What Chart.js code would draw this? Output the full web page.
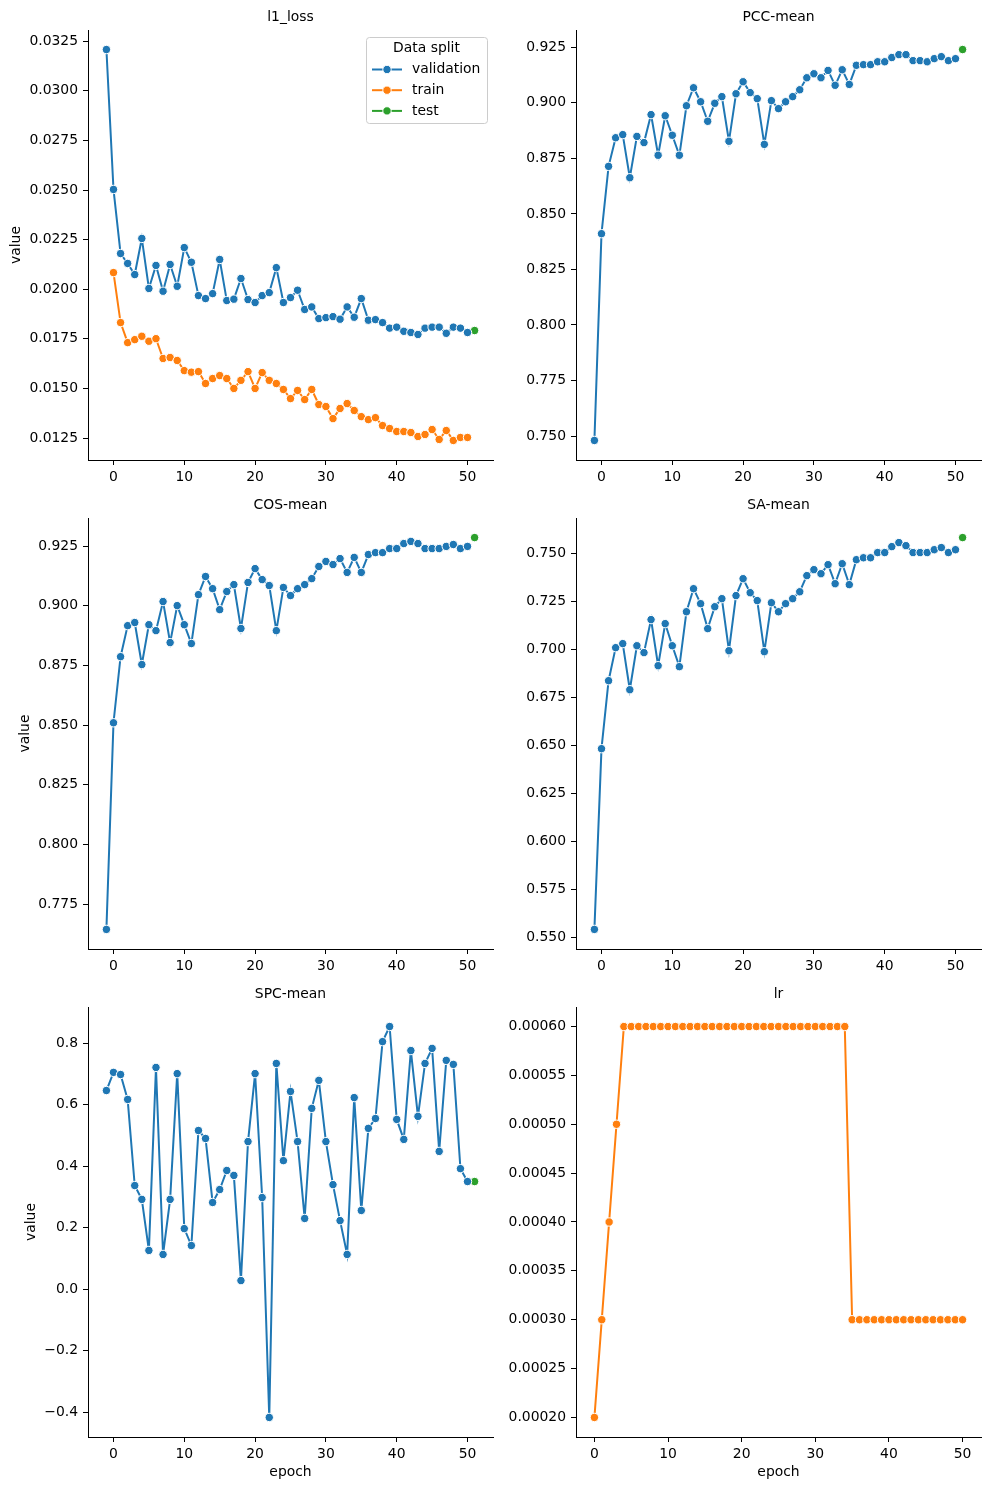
<!DOCTYPE html>
<html>
<head>
<meta charset="utf-8">
<script src="https://cdn.jsdelivr.net/npm/chart.js@4.4.0/dist/chart.umd.min.js"></script>
<style>
  html, body { margin: 0; padding: 0; background: #fff; }
  #fig { position: relative; width: 990px; height: 1490px; overflow: hidden; background: #fff; }
  #fig canvas { position: absolute; }
</style>
</head>
<body>
<div id="fig"></div>
<script>
// --- data ---
const valEpochs = [-1, 0, 1, 2, 3, 4, 5, 6, 7, 8, 9, 10, 11, 12, 13, 14, 15, 16, 17, 18, 19, 20,
  21, 22, 23, 24, 25, 26, 27, 28, 29, 30, 31, 32, 33, 34, 35, 36, 37, 38, 39, 40,
  41, 42, 43, 44, 45, 46, 47, 48, 49, 50];
const trainEpochs = [0, 1, 2, 3, 4, 5, 6, 7, 8, 9, 10, 11, 12, 13, 14, 15, 16, 17, 18, 19, 20,
  21, 22, 23, 24, 25, 26, 27, 28, 29, 30, 31, 32, 33, 34, 35, 36, 37, 38, 39, 40,
  41, 42, 43, 44, 45, 46, 47, 48, 49, 50];
const testEpochs = [51];

const l1Val = [0.03208, 0.02503, 0.0218, 0.0213, 0.02074, 0.02256, 0.02004, 0.0212, 0.0199, 0.02125,
  0.02015, 0.0221, 0.02136, 0.01968, 0.01953, 0.01978, 0.0215, 0.01943, 0.0195, 0.02054,
  0.01948, 0.01933, 0.01968, 0.01983, 0.02109, 0.01933, 0.01958, 0.01995, 0.01898, 0.01911,
  0.01852, 0.01857, 0.01862, 0.01849, 0.01911, 0.01859, 0.01953, 0.01844, 0.01847, 0.01832,
  0.01804, 0.01809, 0.01788, 0.01782, 0.01772, 0.01804, 0.01809, 0.01809, 0.01778, 0.01809,
  0.01804, 0.01782];
const l1Train = [0.02084, 0.01832, 0.01731, 0.01746, 0.01763, 0.01738, 0.01751, 0.01651, 0.01656, 0.01641,
  0.0159, 0.01582, 0.01585, 0.01525, 0.0155, 0.01565, 0.0155, 0.015, 0.01541, 0.01585,
  0.015, 0.0158, 0.01541, 0.01525, 0.01495, 0.01449, 0.0149, 0.01444, 0.01495, 0.01419,
  0.01409, 0.01348, 0.01399, 0.01424, 0.01389, 0.01358, 0.01343, 0.01353, 0.01313, 0.01298,
  0.01283, 0.01283, 0.01278, 0.01258, 0.01268, 0.01293, 0.01243, 0.01288, 0.01238, 0.01253,
  0.01253];
const l1Test = [0.01792];

const pccVal = [0.748, 0.8411, 0.8714, 0.8843, 0.8857, 0.8663, 0.8849, 0.8821, 0.8947, 0.8764,
  0.8942, 0.8854, 0.8764, 0.8987, 0.9068, 0.9005, 0.8917, 0.8998, 0.9028, 0.8827,
  0.9041, 0.9095, 0.9046, 0.9019, 0.8813, 0.901, 0.8974, 0.9005, 0.9028, 0.9059,
  0.9113, 0.9131, 0.9113, 0.9146, 0.9079, 0.9149, 0.9083, 0.9169, 0.9172, 0.9172,
  0.9185, 0.9185, 0.9204, 0.9217, 0.9217, 0.919, 0.919, 0.9185, 0.9199, 0.9208,
  0.919, 0.9199];
const pccTest = [0.924];

const cosVal = [0.7644, 0.851, 0.8787, 0.8917, 0.893, 0.8754, 0.8921, 0.8896, 0.9018, 0.8846,
  0.9001, 0.8921, 0.8842, 0.9047, 0.9123, 0.9072, 0.8984, 0.906, 0.9089, 0.8905,
  0.9098, 0.9156, 0.911, 0.9085, 0.8896, 0.9077, 0.9043, 0.9072, 0.9089, 0.9114,
  0.9165, 0.9186, 0.9173, 0.9198, 0.914, 0.9203, 0.914, 0.9215, 0.9223, 0.9223,
  0.924, 0.924, 0.9261, 0.927, 0.9261, 0.924, 0.924, 0.924, 0.9249, 0.9257,
  0.924, 0.9249];
const cosTest = [0.9286];

const saVal = [0.5542, 0.6483, 0.6837, 0.7009, 0.703, 0.679, 0.7019, 0.6983, 0.7155, 0.6915,
  0.7134, 0.7019, 0.691, 0.7196, 0.7316, 0.7238, 0.7108, 0.7222, 0.7264, 0.6993,
  0.728, 0.7368, 0.7295, 0.7254, 0.6988, 0.7243, 0.7196, 0.7238, 0.7264, 0.73,
  0.7384, 0.7415, 0.7394, 0.7441, 0.7342, 0.7446, 0.7337, 0.7467, 0.7477, 0.7477,
  0.7504, 0.7504, 0.7535, 0.7556, 0.754, 0.7504, 0.7504, 0.7504, 0.7519, 0.753,
  0.7504, 0.7519];
const saTest = [0.7582];

const spcVal = [0.646, 0.705, 0.698, 0.617, 0.337, 0.292, 0.126, 0.721, 0.113, 0.292,
  0.701, 0.197, 0.142, 0.516, 0.49, 0.282, 0.324, 0.386, 0.37, 0.028,
  0.48, 0.701, 0.298, -0.417, 0.734, 0.418, 0.643, 0.48, 0.23, 0.588,
  0.679, 0.48, 0.34, 0.223, 0.113, 0.623, 0.256, 0.523, 0.555, 0.805,
  0.854, 0.552, 0.487, 0.776, 0.562, 0.734, 0.783, 0.448, 0.744, 0.731,
  0.392, 0.35];
const spcTest = [0.35];

const lrTrain = [0.0002, 0.0003, 0.0004, 0.0005, 0.0006, 0.0006, 0.0006, 0.0006, 0.0006, 0.0006,
  0.0006, 0.0006, 0.0006, 0.0006, 0.0006, 0.0006, 0.0006, 0.0006, 0.0006, 0.0006,
  0.0006, 0.0006, 0.0006, 0.0006, 0.0006, 0.0006, 0.0006, 0.0006, 0.0006, 0.0006,
  0.0006, 0.0006, 0.0006, 0.0006, 0.0006, 0.0003, 0.0003, 0.0003, 0.0003, 0.0003,
  0.0003, 0.0003, 0.0003, 0.0003, 0.0003, 0.0003, 0.0003, 0.0003, 0.0003, 0.0003,
  0.0003];

const splitLabels = ['validation', 'train', 'test'];
const splitColors = ['#1f77b4', '#ff7f0e', '#2ca02c'];

// --- styling ---
const FONT_FAMILY = "'DejaVu Sans', sans-serif";
const FONT_SIZE = 13.9;
const FONT = FONT_SIZE + 'px ' + FONT_FAMILY;
Chart.defaults.font.family = FONT_FAMILY;
Chart.defaults.font.size = FONT_SIZE;
Chart.defaults.color = '#000';

function fmt(v, d) {
  return Number(v).toFixed(d).replace('-', '\u2212');
}

function series(idx, xs, ys) {
  const color = splitColors[idx];
  return {
    label: splitLabels[idx],
    data: xs.map((x, i) => ({ x: x, y: ys[i] })),
    borderColor: color,
    backgroundColor: color,
    pointBackgroundColor: color,
    pointBorderColor: '#ffffff',
    pointBorderWidth: 1,
    pointRadius: 4.2,
    pointHoverRadius: 4.2,
    borderWidth: 2,
    tension: 0
  };
}

// matplotlib-like 5% margins
function range(arrays) {
  let lo = Infinity, hi = -Infinity;
  arrays.forEach(a => a.forEach(v => { lo = Math.min(lo, v); hi = Math.max(hi, v); }));
  const pad = (hi - lo) * 0.05;
  return [lo - pad, hi + pad];
}

// titles and axis labels
const panelText = {
  id: 'panelText',
  afterDraw(chart, args, o) {
    const ctx = chart.ctx;
    const a = chart.chartArea;
    ctx.save();
    ctx.fillStyle = '#000';
    ctx.font = FONT;
    ctx.textAlign = 'center';
    ctx.textBaseline = 'middle';
    ctx.fillText(o.title, (a.left + a.right) / 2, a.top - 13);
    if (o.xlabel) ctx.fillText(o.xlabel, (a.left + a.right) / 2, a.bottom + 35);
    if (o.ylabel) {
      ctx.translate(o.ylabelX, (a.top + a.bottom) / 2);
      ctx.rotate(-Math.PI / 2);
      ctx.fillText(o.ylabel, 0, 0);
    }
    ctx.restore();
  }
};

// legend inside the first panel, top right
const splitLegend = {
  id: 'splitLegend',
  afterDraw(chart, args, o) {
    if (!o.show) return;
    const ctx = chart.ctx;
    const a = chart.chartArea;
    const w = 121, h = 86;
    const x0 = a.right - 127, y0 = a.top + 7;
    ctx.save();
    ctx.beginPath();
    ctx.roundRect(x0 + 0.5, y0 + 0.5, w, h, 3);
    ctx.fillStyle = 'rgba(255,255,255,0.8)';
    ctx.fill();
    ctx.strokeStyle = '#cccccc';
    ctx.lineWidth = 1;
    ctx.stroke();
    ctx.font = FONT;
    ctx.fillStyle = '#000';
    ctx.textBaseline = 'middle';
    ctx.textAlign = 'center';
    ctx.fillText('Data split', x0 + w / 2, y0 + 11);
    ctx.textAlign = 'left';
    splitLabels.forEach((lab, i) => {
      const y = y0 + 32.5 + i * 20.7;
      ctx.strokeStyle = splitColors[i];
      ctx.lineWidth = 2;
      ctx.beginPath();
      ctx.moveTo(x0 + 6, y);
      ctx.lineTo(x0 + 36, y);
      ctx.stroke();
      ctx.beginPath();
      ctx.arc(x0 + 21, y, 4.2, 0, Math.PI * 2);
      ctx.fillStyle = splitColors[i];
      ctx.fill();
      ctx.strokeStyle = '#fff';
      ctx.lineWidth = 1;
      ctx.stroke();
      ctx.fillStyle = '#000';
      ctx.fillText(lab, x0 + 46, y);
    });
    ctx.restore();
  }
};

// --- panels ---
const colLeft = [88, 576];
const rowTop = [30, 518, 1007];
const rowH = [430, 431, 430];
const PLOT_W = 405;

const panels = [
  { title: 'l1_loss', col: 0, row: 0, step: 0.0025, dec: 4, ylabel: 'value', ylabelX: 16, legend: true,
    sets: [series(0, valEpochs, l1Val), series(1, trainEpochs, l1Train), series(2, testEpochs, l1Test)],
    xs: [valEpochs, testEpochs], ys: [l1Val, l1Train, l1Test] },
  { title: 'PCC-mean', col: 1, row: 0, step: 0.025, dec: 3,
    sets: [series(0, valEpochs, pccVal), series(2, testEpochs, pccTest)],
    xs: [valEpochs, testEpochs], ys: [pccVal, pccTest] },
  { title: 'COS-mean', col: 0, row: 1, step: 0.025, dec: 3, ylabel: 'value', ylabelX: 25,
    sets: [series(0, valEpochs, cosVal), series(2, testEpochs, cosTest)],
    xs: [valEpochs, testEpochs], ys: [cosVal, cosTest] },
  { title: 'SA-mean', col: 1, row: 1, step: 0.025, dec: 3,
    sets: [series(0, valEpochs, saVal), series(2, testEpochs, saTest)],
    xs: [valEpochs, testEpochs], ys: [saVal, saTest] },
  { title: 'SPC-mean', col: 0, row: 2, step: 0.2, dec: 1, ylabel: 'value', ylabelX: 31, xlabel: 'epoch',
    sets: [series(0, valEpochs, spcVal), series(2, testEpochs, spcTest)],
    xs: [valEpochs, testEpochs], ys: [spcVal, spcTest] },
  { title: 'lr', col: 1, row: 2, step: 0.00005, dec: 5, xlabel: 'epoch',
    sets: [series(1, trainEpochs, lrTrain)],
    xs: [trainEpochs], ys: [lrTrain] }
];

const fig = document.getElementById('fig');

panels.forEach(p => {
  const canvas = document.createElement('canvas');
  const w = PLOT_W + 88 + 8;
  const h = rowH[p.row] + 30 + 50;
  canvas.width = w;
  canvas.height = h;
  canvas.style.width = w + 'px';
  canvas.style.height = h + 'px';
  canvas.style.left = (colLeft[p.col] - 88) + 'px';
  canvas.style.top = (rowTop[p.row] - 30) + 'px';
  fig.appendChild(canvas);

  const xr = range(p.xs);
  const yr = range(p.ys);

  new Chart(canvas.getContext('2d'), {
    type: 'line',
    data: { datasets: p.sets },
    options: {
      responsive: false,
      animation: false,
      devicePixelRatio: 1,
      events: [],
      layout: { padding: { top: 30, right: 8, left: 0, bottom: 0 } },
      plugins: {
        legend: { display: false },
        tooltip: { enabled: false },
        panelText: { title: p.title, xlabel: p.xlabel, ylabel: p.ylabel, ylabelX: p.ylabelX },
        splitLegend: { show: !!p.legend }
      },
      scales: {
        x: {
          type: 'linear',
          min: xr[0],
          max: xr[1],
          afterFit: s => { s.height = 50; },
          border: { display: true, color: '#000', width: 1 },
          grid: { display: true, drawOnChartArea: false, drawTicks: true, tickLength: 5, tickColor: '#000', tickWidth: 1 },
          ticks: { stepSize: 10, includeBounds: false, autoSkip: false, maxRotation: 0, padding: 4,
            callback: v => fmt(v, 0) }
        },
        y: {
          type: 'linear',
          min: yr[0],
          max: yr[1],
          afterFit: s => { s.width = 88; },
          border: { display: true, color: '#000', width: 1 },
          grid: { display: true, drawOnChartArea: false, drawTicks: true, tickLength: 5, tickColor: '#000', tickWidth: 1 },
          ticks: { stepSize: p.step, includeBounds: false, autoSkip: false, padding: 5,
            callback: v => fmt(v, p.dec) }
        }
      }
    },
    plugins: [panelText, splitLegend]
  });
});
</script>
</body>
</html>
